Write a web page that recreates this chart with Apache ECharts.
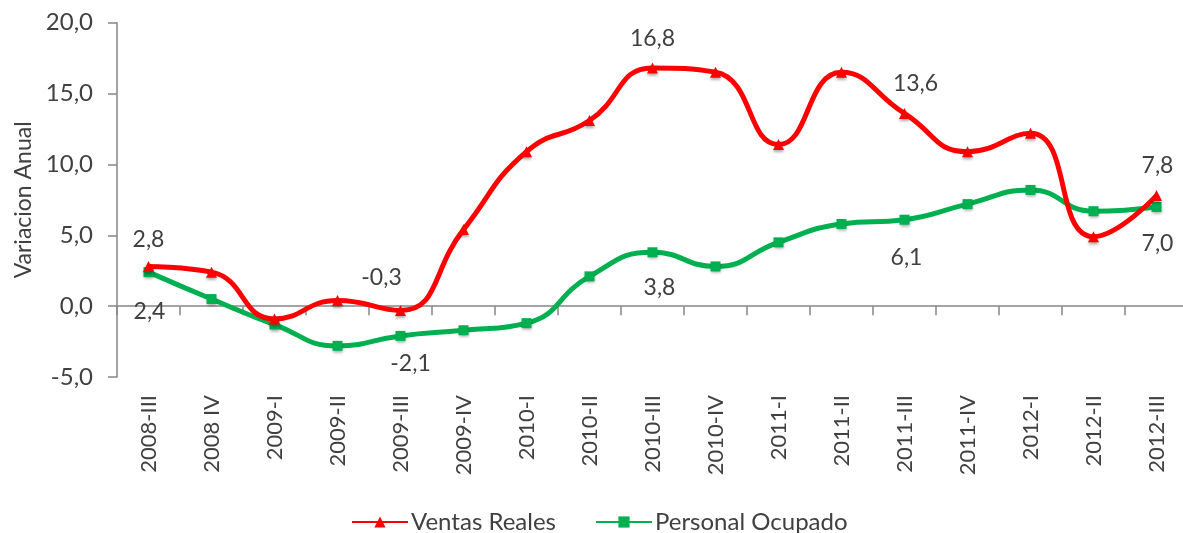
<!DOCTYPE html>
<html>
<head>
<meta charset="utf-8">
<script src="https://cdn.jsdelivr.net/npm/echarts@6/dist/echarts.min.js"></script>
<style>
html,body{margin:0;padding:0;background:#fff;}
#chart{width:1183px;height:533px;}
</style>
</head>
<body>
<div id="chart"></div>
<script>
const categories = ['2008-III','2008 IV','2009-I','2009-II','2009-III','2009-IV','2010-I','2010-II','2010-III','2010-IV','2011-I','2011-II','2011-III','2011-IV','2012-I','2012-II','2012-III'];
const ventasReales = [2.8, 2.4, -0.9, 0.4, -0.3, 5.4, 10.9, 13.1, 16.8, 16.5, 11.4, 16.5, 13.6, 10.9, 12.2, 4.9, 7.8];
const personalOcupado = [2.4, 0.5, -1.3, -2.8, -2.1, -1.7, -1.2, 2.1, 3.8, 2.8, 4.5, 5.8, 6.1, 7.2, 8.2, 6.7, 7.0];
const yTicks = [-5, 0, 5, 10, 15, 20];
const labeledIdx = [0, 4, 8, 12, 16];

// label placement (style only)
const ventasLabelOffsets = {0:[0,-27], 4:[-19,-33], 8:[0,-29], 12:[11,-30], 16:[1,-30]};
const personalLabelOffsets = {0:[1,39], 4:[10,28], 8:[7,35], 12:[2,38], 16:[1,37]};

const FONT = 'Lato';
const TXT = '#404040';

function fmt(v){ return v.toFixed(1).replace('.', ','); }

function buildData(values, offsets){
  return values.map((v,i)=>{
    if (labeledIdx.indexOf(i) >= 0) {
      return {value:v, label:{show:true, position:'inside', offset:offsets[i], formatter: fmt(v),
        color:TXT, fontFamily:FONT, fontSize:23}};
    }
    return {value:v};
  });
}

const chart = echarts.init(document.getElementById('chart'), null, {renderer:'canvas'});
chart.setOption({
  animation:false,
  backgroundColor:'#ffffff',
  textStyle:{fontFamily:FONT, color:TXT},
  grid:{left:117, right:-5, top:22.7, bottom:156, containLabel:false, outerBoundsMode:'none'},
  legend:{
    show:true, left:346, top:505, itemWidth:56, itemHeight:14, itemGap:39,
    textStyle:{fontFamily:FONT, fontSize:24, color:TXT, padding:[0,0,0,-2]},
    data:['Ventas Reales','Personal Ocupado']
  },
  xAxis:{
    type:'category', data:categories, boundaryGap:true,
    axisLine:{onZero:true, lineStyle:{color:'#868686', width:1.5}},
    axisTick:{show:true, length:9, inside:false, lineStyle:{color:'#868686', width:1.5}},
    axisLabel:{rotate:90, margin:18, interval:0, color:TXT, fontFamily:FONT, fontSize:22},
    splitLine:{show:false}
  },
  yAxis:{
    type:'value', min:yTicks[0], max:yTicks[yTicks.length-1], interval:5,
    name:'Variacion Anual', nameLocation:'middle', nameGap:82, nameRotate:90,
    nameTextStyle:{fontFamily:FONT, fontSize:23, color:TXT},
    axisLine:{show:true, lineStyle:{color:'#868686', width:1.5}},
    axisTick:{show:true, length:9, lineStyle:{color:'#868686', width:1.5}},
    axisLabel:{margin:24, color:TXT, fontFamily:FONT, fontSize:24, formatter:(v)=>fmt(v)},
    splitLine:{show:false}
  },
  series:[
    {
      name:'Ventas Reales', type:'line', smooth:0.5,
      data:buildData(ventasReales, ventasLabelOffsets),
      symbol:'triangle', symbolSize:11,
      lineStyle:{color:'#ff0000', width:5},
      itemStyle:{color:'#ff0000', shadowBlur:3, shadowColor:'rgba(0,0,0,0.35)', shadowOffsetY:2},
      z:3
    },
    {
      name:'Personal Ocupado', type:'line', smooth:0.5,
      data:buildData(personalOcupado, personalLabelOffsets),
      symbol:'rect', symbolSize:10,
      lineStyle:{color:'#00b050', width:5},
      itemStyle:{color:'#00b050', shadowBlur:3, shadowColor:'rgba(0,0,0,0.35)', shadowOffsetY:2},
      z:2
    }
  ]
});
</script>
</body>
</html>
